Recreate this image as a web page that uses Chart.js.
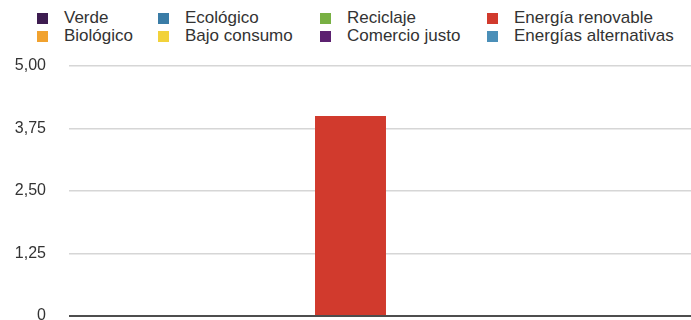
<!DOCTYPE html>
<html>
<head>
<meta charset="utf-8">
<script src="https://cdn.jsdelivr.net/npm/chart.js@4/dist/chart.umd.min.js"></script>
<style>
  html, body { margin: 0; padding: 0; background: #fff; }
  #wrap { position: relative; width: 691px; height: 320px; overflow: hidden; }
  #legend { position: absolute; left: 0; top: 0; width: 691px; height: 60px;
    font-family: "Liberation Sans", Arial, Helvetica, sans-serif; font-size: 17px; color: #333; }
  .item { position: absolute; display: flex; align-items: center; height: 18px; white-space: nowrap; }
  .sw { width: 11px; height: 11px; margin-right: 16px; }
  canvas { position: absolute; left: 0; top: 0; }
</style>
</head>
<body>
<div id="wrap">
  <div id="legend"></div>
  <canvas id="c" width="691" height="320"></canvas>
</div>
<script>
const categories = [""];
const seriesNames = ["Verde", "Ecológico", "Reciclaje", "Energía renovable",
                     "Biológico", "Bajo consumo", "Comercio justo", "Energías alternativas"];
const seriesValues = [
  [0],   // Verde
  [0],   // Ecológico
  [0],   // Reciclaje
  [4],   // Energía renovable
  [0],   // Biológico
  [0],   // Bajo consumo
  [0],   // Comercio justo
  [0]    // Energías alternativas
];
const seriesColors = ["#3d1c50", "#3a7ca6", "#78b043", "#d13a2d",
                      "#f1a22f", "#f2d23b", "#5c2170", "#4b8fb8"];
const yTickLabels = ["0", "1,25", "2,50", "3,75", "5,00"];

// HTML legend in a 4-column grid
const legendCols = [37, 158, 320, 487];
const legendRows = [18, 36];
const legend = document.getElementById('legend');
seriesNames.forEach((name, i) => {
  const d = document.createElement('div');
  d.className = 'item';
  d.style.left = legendCols[i % 4] + 'px';
  d.style.top = (legendRows[Math.floor(i / 4)] - 9) + 'px';
  const sw = document.createElement('span');
  sw.className = 'sw';
  sw.style.background = seriesColors[i];
  const t = document.createElement('span');
  t.textContent = name;
  d.appendChild(sw); d.appendChild(t);
  legend.appendChild(d);
});

const datasets = seriesNames.map((name, i) => ({
  label: name,
  data: seriesValues[i],
  backgroundColor: seriesColors[i],
  borderWidth: 0
}));

new Chart(document.getElementById('c'), {
  type: 'bar',
  data: { labels: categories, datasets },
  options: {
    responsive: false,
    animation: false,
    devicePixelRatio: 1,
    categoryPercentage: 0.7588,
    barPercentage: 1.203,
    layout: { padding: { top: 66, bottom: 4, left: 0, right: 0 } },
    plugins: { legend: { display: false }, tooltip: { enabled: false } },
    scales: {
      x: {
        display: false
      },
      y: {
        min: 0, max: 5,
        ticks: {
          stepSize: 1.25,
          padding: 23,
          color: '#333',
          font: { family: '"Liberation Sans", Arial, Helvetica, sans-serif', size: 16 },
          callback: (v, i) => yTickLabels[i]
        },
        grid: {
          color: (ctx) => ctx.index === 0 ? '#4d4d4d' : '#d6d6d6',
          lineWidth: (ctx) => ctx.index === 0 ? 2 : 1.5,
          drawTicks: false
        },
        border: { display: false },
        afterFit: (s) => { s.width = 69; s.paddingTop = 0; s.paddingBottom = 0; }
      }
    }
  }
});
</script>
</body>
</html>
